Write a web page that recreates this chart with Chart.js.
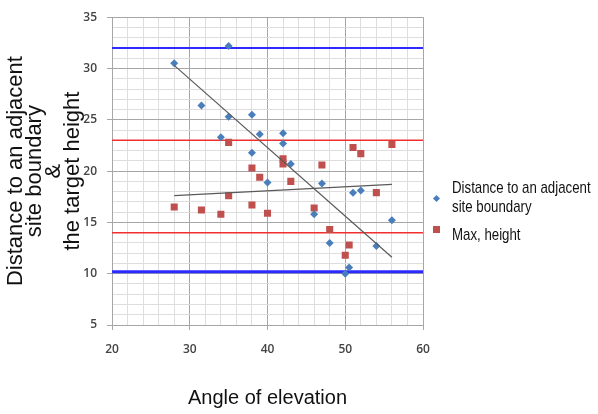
<!DOCTYPE html>
<html lang="en">
<head>
  <meta charset="UTF-8" />
  <title>Angle of elevation vs distance and height</title>
  <script src="https://cdn.jsdelivr.net/npm/chart.js"></script>
  <style>
    * { box-sizing: border-box; }
    body { margin: 0; background: #fff; }
    #wrap { position: relative; width: 598px; height: 414px; }
    #chart { position: absolute; left: 0; top: 0; }
    .legend-item {
      position: absolute;
      left: 452px;
      font-family: "Liberation Sans", Arial, sans-serif;
      font-size: 17px;
      line-height: 19px;
      color: #111;
      white-space: nowrap;
      transform: scaleX(0.78);
      transform-origin: left center;
    }
    .mark { position: absolute; }
    .diamond {
      width: 5px; height: 5px;
      background: #4a7ebb;
      transform: rotate(45deg);
    }
    .square {
      width: 7px; height: 7px;
      background: #c0504d;
    }
  </style>
</head>
<body>
  <div id="wrap">
    <canvas id="chart" width="598" height="414"></canvas>
    <span class="mark diamond" style="left: 434px; top: 196px;"></span>
    <div class="legend-item" style="top: 178px;">Distance to an adjacent<br>site boundary</div>
    <span class="mark square" style="left: 433px; top: 226px;"></span>
    <div class="legend-item" style="top: 225px;">Max, height</div>
  </div>

  <script>
    // angle of elevation (x) for each site
    const distX = [28, 31.5, 34, 35, 35, 38, 38, 39, 40, 42, 42, 43, 46, 47, 48, 50, 50.5, 51, 52, 54, 56];
    const distY = [30.5, 26.4, 23.3, 32.2, 25.3, 25.5, 21.8, 23.6, 18.9, 23.7, 22.7, 20.7, 15.8, 18.8, 13.0, 10.0, 10.6, 17.9, 18.1, 12.7, 15.2];
    const maxX = [28, 31.5, 34, 35, 35, 38, 38, 39, 40, 42, 42, 43, 46, 47, 48, 50, 50.5, 51, 52, 54, 56];
    const maxY = [16.5, 16.2, 15.8, 17.6, 22.8, 20.3, 16.7, 19.4, 15.9, 21.2, 20.7, 19.0, 16.4, 20.6, 14.3, 11.8, 12.8, 22.3, 21.7, 17.9, 22.6];

    // trend lines
    const trendX = [28, 56];
    const distTrend = [30.3, 11.6];
    const maxTrend = [17.6, 18.7];

    // horizontal limit lines
    const limitX = [20, 60];
    const blueLevels = [32, 10.2];
    const redLevels = [23, 14];

    const pts = (xs, ys) => xs.map((x, i) => ({ x, y: ys[i] }));
    const hline = y => limitX.map(x => ({ x, y }));

    const datasets = [
      {
        label: "Distance to an adjacent site boundary",
        data: pts(distX, distY),
        pointStyle: "rectRot",
        pointRadius: 4,
        backgroundColor: "#4a7ebb",
        borderColor: "#4a7ebb",
        borderWidth: 0,
        showLine: false,
        order: 1
      },
      {
        label: "Max, height",
        data: pts(maxX, maxY),
        pointStyle: "rect",
        pointRadius: 5,
        backgroundColor: "#c0504d",
        borderColor: "#c0504d",
        borderWidth: 0,
        showLine: false,
        order: 1
      },
      {
        data: pts(trendX, distTrend),
        showLine: true, pointRadius: 0,
        borderColor: "#595959", borderWidth: 1.2,
        order: 0
      },
      {
        data: pts(trendX, maxTrend),
        showLine: true, pointRadius: 0,
        borderColor: "#595959", borderWidth: 1.2,
        order: 0
      }
    ];

    blueLevels.forEach((lv, i) => datasets.push({
      data: hline(lv), showLine: true, pointRadius: 0,
      borderColor: "#2b2bff", borderWidth: i === 0 ? 2 : 3, order: 3
    }));
    redLevels.forEach(lv => datasets.push({
      data: hline(lv), showLine: true, pointRadius: 0,
      borderColor: "#f03030", borderWidth: 1.5, order: 3
    }));

    const tickFont = { family: "'Open Sans', 'DejaVu Sans', sans-serif", size: 12, weight: "600" };

    new Chart(document.getElementById("chart"), {
      type: "scatter",
      data: { datasets },
      options: {
        responsive: false,
        animation: false,
        layout: { padding: { top: 17, right: 175, bottom: 0, left: 0 } },
        plugins: {
          legend: { display: false },
          tooltip: { enabled: false }
        },
        scales: {
          x: {
            min: 20, max: 60,
            afterFit: s => { s.height = 89; },
            border: { color: "#a6a6a6" },
            grid: {
              color: c => (c.tick && c.tick.value % 10 === 0) ? "#a6a6a6" : "#dedede",
              tickColor: c => (c.tick && c.tick.value % 10 === 0) ? "#a6a6a6" : "rgba(0,0,0,0)",
              tickLength: 5
            },
            ticks: {
              stepSize: 2, autoSkip: false, maxRotation: 0,
              padding: 12, color: "#444", font: tickFont,
              callback: v => v % 10 === 0 ? v : ""
            },
            title: {
              display: true,
              text: "Angle of elevation",
              color: "#111",
              font: { family: "'Liberation Sans', Arial, sans-serif", size: 20 },
              padding: { top: 0, bottom: 4 }
            }
          },
          y: {
            min: 5, max: 35,
            afterFit: s => { s.width = 112; },
            border: { color: "#a6a6a6" },
            grid: {
              color: c => (c.tick && c.tick.value % 5 === 0) ? "#a6a6a6" : "#dedede",
              tickColor: c => (c.tick && c.tick.value % 5 === 0) ? "#a6a6a6" : "rgba(0,0,0,0)",
              tickLength: 5
            },
            ticks: {
              stepSize: 1, autoSkip: false,
              padding: 10, color: "#444", font: tickFont,
              callback: v => v % 5 === 0 ? v : ""
            },
            title: {
              display: true,
              text: ["Distance to an adjacent", "site boundary", "&", "the target height"],
              color: "#111",
              font: { family: "'Liberation Sans', Arial, sans-serif", size: 22, lineHeight: "19px" },
              padding: { top: 6, bottom: 0 }
            }
          }
        }
      }
    });
  </script>
</body>
</html>
